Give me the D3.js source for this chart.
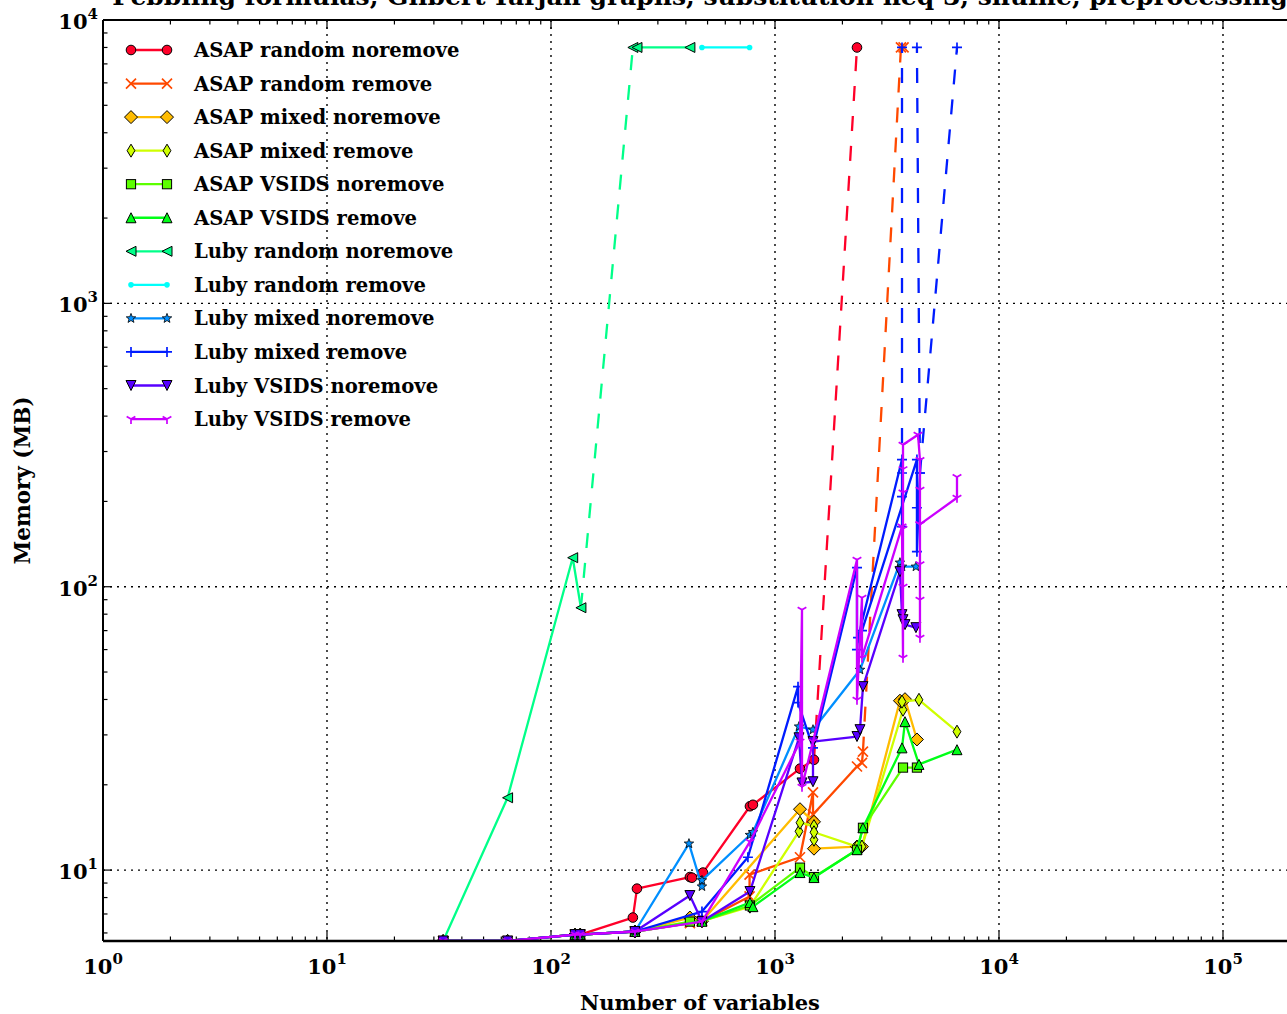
<!DOCTYPE html>
<html><head><meta charset="utf-8">
<script src="https://cdn.jsdelivr.net/npm/d3@7"></script>
<style>body{margin:0;background:#fff}</style>
</head><body>
<svg id="c" width="1287" height="1014"></svg>
<script>
// ---------------- DATA ----------------
const FAIL = 8000;          // runs that ran out of memory / time are plotted at this value
const titleText = "Pebbling formulas, Gilbert-Tarjan graphs, substitution neq 3, shuffle, preprocessing";
const xLabel = "Number of variables";
const yLabel = "Memory (MB)";
const xTickExponents = [0, 1, 2, 3, 4, 5];
const yTickExponents = [1, 2, 3, 4];

const seriesNames = [
  "ASAP random noremove", "ASAP random remove", "ASAP mixed noremove", "ASAP mixed remove",
  "ASAP VSIDS noremove", "ASAP VSIDS remove", "Luby random noremove", "Luby random remove",
  "Luby mixed noremove", "Luby mixed remove", "Luby VSIDS noremove", "Luby VSIDS remove"];
const seriesColors = ["#ff0029", "#ff4900", "#ffbc00", "#cfff00", "#5cff00", "#00ff17",
  "#00ff89", "#00fffa", "#008fff", "#001cff", "#5800ff", "#cb00ff"];
const seriesMarkers = ["circle", "x", "diamond", "thin_diamond", "square", "triangle_up",
  "triangle_left", "point", "star", "plus", "triangle_down", "tri_down"];

// null entries = break in the line
const asapRandomNoremoveX = [33, 64, 128, 135, 232, 242, 417, 426, 477, 773, 797, 1293, 1493, 2323];
const asapRandomNoremoveY = [5.62, 5.62, 5.92, 5.92, 6.8, 8.6, 9.45, 9.4, 9.8, 16.8, 17.0, 22.8, 24.5, FAIL];

const asapRandomRemoveX = [33, 64, 128, 135, 237, 417, 472, 770, 770, 1293, 1478, 1478, 2323, 2445, 2470, 3650, 3750];
const asapRandomRemoveY = [5.62, 5.62, 5.92, 5.92, 6.07, 6.5, 6.6, 8.07, 9.64, 11.1, 18.8, 15.7, 23.2, 23.9, 26.2, FAIL, FAIL];

const asapMixedNoremoveX = [33, 64, 128, 135, 237, 417, 472, 1293, 1493, 1493, 2323, 2445, 3613, 3805, 4302];
const asapMixedNoremoveY = [5.62, 5.62, 5.92, 5.92, 6.07, 6.8, 6.6, 16.4, 14.8, 11.9, 12.1, 12.1, 39.6, 40.1, 28.9];

const asapMixedRemoveX = [33, 64, 128, 135, 237, 472, 773, 1280, 1293, 1493, 1493, 1493, 2323, 2445, 3728, 3690, 4393, 6494];
const asapMixedRemoveY = [5.62, 5.62, 5.92, 5.92, 6.07, 6.6, 7.43, 13.7, 14.7, 14.3, 12.8, 13.6, 12.1, 12.1, 36.8, 39.3, 39.9, 30.8];

const asapVsidsNoremoveX = [33, 64, 128, 135, 237, 417, 472, 773, 1293, 1493, 2323, 2470, 3728, 4302];
const asapVsidsNoremoveY = [5.62, 5.62, 5.92, 5.92, 6.07, 6.58, 6.6, 7.5, 10.2, 9.45, 11.8, 14.1, 23.0, 23.0];

const asapVsidsRemoveX = [33, 64, 128, 135, 237, 472, 773, 797, 1293, 1493, 2323, 2470, 3690, 3805, 4393, 6494];
const asapVsidsRemoveY = [5.62, 5.62, 5.92, 5.92, 6.07, 6.6, 7.68, 7.43, 9.8, 9.41, 11.8, 14.1, 27.0, 33.4, 23.6, 26.6];

const lubyRandomNoremoveX = [33, 64, 125, 136, 232, 242, 417];
const lubyRandomNoremoveY = [5.62, 18.0, 126.6, 84.3, FAIL, FAIL, FAIL];

const lubyRandomRemoveX = [472, 770];
const lubyRandomRemoveY = [FAIL, FAIL];

const lubyMixedNoremoveX = [33, 64, 128, 135, 237, 413, 472, 472, 773, 797, 1280, 1478, 2396, 3613, 3690, 4258];
const lubyMixedNoremoveY = [5.62, 5.62, 5.92, 5.92, 6.07, 12.4, 8.75, 9.2, 13.3, 13.6, 32.1, 31.3, 50.9, 121.6, 117.7, 117.7];

const lubyMixedRemoveX = [33, 64, 128, 135, 237, 472, 757, 1267, 1267, 1478, 2323, 2323, 2348, 3690, 3690, 3690, 3690, 3690, null,
  2445, 4302, 4302, 4302, 4438, 4302, null, 4438, 6494];
const lubyMixedRemoveY = [5.62, 5.62, 5.92, 5.92, 6.07, 7.14, 11.1, 44.4, 39.0, 27.0, 116.7, 60.0, 66.1, 281, 163, 208, 252, FAIL, null,
  70, 281, 190, 133, 252, FAIL, null, 252, FAIL];

const lubyVsidsNoremoveX = [33, 64, 128, 135, 237, 417, 472, 773, 1280, 1320, 1478, 1478, 2323, 2396, 2470, 3613, 3690, 3728, 3805, 4258];
const lubyVsidsNoremoveY = [5.62, 5.62, 5.92, 5.92, 6.07, 8.13, 6.58, 8.4, 29.3, 20.3, 20.5, 28.4, 29.6, 31.3, 44.4, 113, 79.7, 76.5, 73.5, 71.7];

const lubyVsidsRemoveX = [33, 64, 128, 135, 237, 472, 773, 1293, 1320, 1320, 1478, 2323, 2323, 2445, 2445, 3690, 3728, 3728, 3728, 3728, 3728, 3728,
  4350, 4438, 4438, 4438, 4438, 4438, 4438, 4438, 6494, 6494];
const lubyVsidsRemoveY = [5.62, 5.62, 5.92, 5.92, 6.07, 6.58, 12.6, 28.4, 82.9, 19.7, 28.4, 124.5, 39.9, 91.4, 56.2, 163, 56.2, 100, 160, 215, 260, 317,
  344, 280, 220, 166, 120, 90, 66.1, 166, 206, 244];

const seriesX = [asapRandomNoremoveX, asapRandomRemoveX, asapMixedNoremoveX, asapMixedRemoveX, asapVsidsNoremoveX, asapVsidsRemoveX,
  lubyRandomNoremoveX, lubyRandomRemoveX, lubyMixedNoremoveX, lubyMixedRemoveX, lubyVsidsNoremoveX, lubyVsidsRemoveX];
const seriesY = [asapRandomNoremoveY, asapRandomRemoveY, asapMixedNoremoveY, asapMixedRemoveY, asapVsidsNoremoveY, asapVsidsRemoveY,
  lubyRandomNoremoveY, lubyRandomRemoveY, lubyMixedNoremoveY, lubyMixedRemoveY, lubyVsidsNoremoveY, lubyVsidsRemoveY];

// ---------------- LAYOUT ----------------
const W = 1287, H = 1014;
const plot = {left: 103, right: 1297, top: 20, bottom: 941};
const xMin = 1, xMax = 2.14e5, yMin = 5.62, yMax = 1e4;
const FONT = "'DejaVu Serif', serif";

const svg = d3.select("#c");
svg.append("rect").attr("width", W).attr("height", H).attr("fill", "#fff");

const x = d3.scaleLog().domain([xMin, xMax]).range([plot.left, plot.right]);
const y = d3.scaleLog().domain([yMin, yMax]).range([plot.bottom, plot.top]);

svg.append("clipPath").attr("id", "clip").append("rect")
  .attr("x", plot.left).attr("y", plot.top)
  .attr("width", plot.right - plot.left).attr("height", plot.bottom - plot.top);

// grid
const grid = svg.append("g").attr("stroke", "#000").attr("stroke-width", 1.4).attr("stroke-dasharray", "2,5");
xTickExponents.filter(e => e > 0).forEach(e => {
  grid.append("line").attr("x1", x(10 ** e)).attr("x2", x(10 ** e)).attr("y1", plot.top).attr("y2", plot.bottom);
});
yTickExponents.filter(e => 10 ** e < yMax).forEach(e => {
  grid.append("line").attr("y1", y(10 ** e)).attr("y2", y(10 ** e)).attr("x1", plot.left).attr("x2", plot.right);
});

// ticks
function minorVals(lo, hi) {
  const out = [];
  for (let d = Math.floor(Math.log10(lo)); d <= Math.ceil(Math.log10(hi)); d++)
    for (let k = 2; k <= 9; k++) { const v = k * 10 ** d; if (v > lo && v < hi) out.push(v); }
  return out;
}
const xMajor = xTickExponents.map(e => 10 ** e);
const yMajor = yTickExponents.map(e => 10 ** e);
const xMinor = minorVals(xMin, xMax), yMinor = minorVals(yMin, yMax);
const tk = svg.append("g").attr("stroke", "#000").attr("stroke-width", 1.2);
function xticks(vals, len) {
  vals.forEach(v => {
    tk.append("line").attr("x1", x(v)).attr("x2", x(v)).attr("y1", plot.bottom).attr("y2", plot.bottom - len);
    tk.append("line").attr("x1", x(v)).attr("x2", x(v)).attr("y1", plot.top).attr("y2", plot.top + len);
  });
}
function yticks(vals, len) {
  vals.forEach(v => {
    tk.append("line").attr("y1", y(v)).attr("y2", y(v)).attr("x1", plot.left).attr("x2", plot.left + len);
    tk.append("line").attr("y1", y(v)).attr("y2", y(v)).attr("x1", plot.right).attr("x2", plot.right - len);
  });
}
xticks(xMajor, 9); xticks(xMinor, 4.5); yticks(yMajor, 9); yticks(yMinor, 4.5);

// markers
function marker(g, type, cx, cy, color) {
  const s = 5;
  let el;
  switch (type) {
    case "circle": el = g.append("circle").attr("cx", cx).attr("cy", cy).attr("r", 4.8).attr("fill", color).attr("stroke", "#000"); break;
    case "point": el = g.append("circle").attr("cx", cx).attr("cy", cy).attr("r", 2.8).attr("fill", color).attr("stroke", "none"); break;
    case "square": el = g.append("rect").attr("x", cx - 4.6).attr("y", cy - 4.6).attr("width", 9.2).attr("height", 9.2).attr("fill", color).attr("stroke", "#000"); break;
    case "diamond": el = g.append("path").attr("d", `M${cx},${cy - 6.5}L${cx + 6.5},${cy}L${cx},${cy + 6.5}L${cx - 6.5},${cy}Z`).attr("fill", color).attr("stroke", "#000"); break;
    case "thin_diamond": el = g.append("path").attr("d", `M${cx},${cy - 6.5}L${cx + 3.9},${cy}L${cx},${cy + 6.5}L${cx - 3.9},${cy}Z`).attr("fill", color).attr("stroke", "#000"); break;
    case "triangle_up": el = g.append("path").attr("d", `M${cx},${cy - s}L${cx + s},${cy + s}L${cx - s},${cy + s}Z`).attr("fill", color).attr("stroke", "#000"); break;
    case "triangle_down": el = g.append("path").attr("d", `M${cx},${cy + s}L${cx + s},${cy - s}L${cx - s},${cy - s}Z`).attr("fill", color).attr("stroke", "#000"); break;
    case "triangle_left": el = g.append("path").attr("d", `M${cx - s},${cy}L${cx + s},${cy - s}L${cx + s},${cy + s}Z`).attr("fill", color).attr("stroke", "#000"); break;
    case "x": el = g.append("path").attr("d", `M${cx - s},${cy - s}L${cx + s},${cy + s}M${cx - s},${cy + s}L${cx + s},${cy - s}`).attr("fill", "none").attr("stroke", color).attr("stroke-width", 1.7); break;
    case "plus": el = g.append("path").attr("d", `M${cx - s},${cy}H${cx + s}M${cx},${cy - s}V${cy + s}`).attr("fill", "none").attr("stroke", color).attr("stroke-width", 1.7); break;
    case "tri_down": el = g.append("path").attr("d", `M${cx},${cy}V${cy + s}M${cx},${cy}L${cx - s * 0.87},${cy - s * 0.5}M${cx},${cy}L${cx + s * 0.87},${cy - s * 0.5}`).attr("fill", "none").attr("stroke", color).attr("stroke-width", 1.7); break;
    case "star": {
      const pts = [];
      for (let i = 0; i < 10; i++) {
        const r = i % 2 === 0 ? 5 : 2.1, a = -Math.PI / 2 + i * Math.PI / 5;
        pts.push([cx + r * Math.cos(a), cy + r * Math.sin(a)]);
      }
      el = g.append("path").attr("d", "M" + pts.map(p => p.join(",")).join("L") + "Z").attr("fill", color).attr("stroke", "#000").attr("stroke-width", 0.8);
      break;
    }
  }
  if (el && el.attr("stroke") === "#000" && !el.attr("stroke-width")) el.attr("stroke-width", 1);
}

// series
const line = d3.line().x(d => x(d[0])).y(d => y(d[1]));
function polylines(xs, ys) {
  const out = []; let cur = null;
  for (let i = 0; i < xs.length - 1; i++) {
    if (xs[i] == null || xs[i + 1] == null) { cur = null; continue; }
    const dashed = (ys[i] === FAIL) !== (ys[i + 1] === FAIL);
    if (cur && cur.dashed === dashed && cur.last === i) { cur.pts.push([xs[i + 1], ys[i + 1]]); cur.last = i + 1; }
    else { cur = {dashed, pts: [[xs[i], ys[i]], [xs[i + 1], ys[i + 1]]], last: i + 1}; out.push(cur); }
  }
  return out;
}
const plotG = svg.append("g").attr("clip-path", "url(#clip)");
seriesNames.forEach((name, si) => {
  const g = plotG.append("g");
  const xs = seriesX[si], ys = seriesY[si], col = seriesColors[si];
  polylines(xs, ys).forEach(pl => {
    g.append("path").attr("d", line(pl.pts)).attr("fill", "none").attr("stroke", col)
      .attr("stroke-width", 2.3).attr("stroke-linejoin", "round")
      .attr("stroke-dasharray", pl.dashed ? "15,15" : null);
  });
  xs.forEach((xv, i) => { if (xv != null) marker(g, seriesMarkers[si], x(xv), y(ys[i]), col); });
});

// spines
svg.append("g").attr("stroke", "#000").attr("fill", "none").call(g => {
  g.append("line").attr("x1", plot.left).attr("x2", plot.right).attr("y1", plot.bottom).attr("y2", plot.bottom).attr("stroke-width", 2.5);
  g.append("line").attr("x1", plot.left).attr("x2", plot.right).attr("y1", plot.top).attr("y2", plot.top).attr("stroke-width", 2);
  g.append("line").attr("x1", plot.left).attr("x2", plot.left).attr("y1", plot.top).attr("y2", plot.bottom).attr("stroke-width", 2);
  g.append("line").attr("x1", plot.right).attr("x2", plot.right).attr("y1", plot.top).attr("y2", plot.bottom).attr("stroke-width", 2);
});

// tick labels
const tl = svg.append("g").attr("font-family", FONT).attr("font-weight", "bold").attr("fill", "#000");
xTickExponents.forEach(e => {
  const t = tl.append("text").attr("x", x(10 ** e)).attr("y", plot.bottom + 33).attr("text-anchor", "middle").attr("font-size", 21);
  t.append("tspan").text("10");
  t.append("tspan").attr("dy", -10).attr("font-size", 15).text(e);
});
yTickExponents.forEach(e => {
  const t = tl.append("text").attr("x", plot.left - 5).attr("y", y(10 ** e) + 9).attr("text-anchor", "end").attr("font-size", 21);
  t.append("tspan").text("10");
  t.append("tspan").attr("dy", -10).attr("font-size", 15).text(e);
});

// axis labels and title
svg.append("text").attr("x", (plot.left + plot.right) / 2).attr("y", 1010).attr("text-anchor", "middle")
  .attr("font-family", FONT).attr("font-weight", "bold").attr("font-size", 21).text(xLabel);
svg.append("text").attr("transform", `translate(30,${(plot.top + plot.bottom) / 2}) rotate(-90)`).attr("text-anchor", "middle")
  .attr("font-family", FONT).attr("font-weight", "bold").attr("font-size", 21.5).text(yLabel);
svg.append("text").attr("x", (plot.left + plot.right) / 2).attr("y", 5).attr("text-anchor", "middle")
  .attr("font-family", FONT).attr("font-weight", "bold").attr("font-size", 25).text(titleText);

// legend
const lg = svg.append("g");
seriesNames.forEach((name, i) => {
  const ly = 50 + i * 33.55;
  lg.append("line").attr("x1", 131).attr("x2", 167).attr("y1", ly).attr("y2", ly).attr("stroke", seriesColors[i]).attr("stroke-width", 2.3);
  marker(lg, seriesMarkers[i], 131, ly, seriesColors[i]);
  marker(lg, seriesMarkers[i], 167, ly, seriesColors[i]);
  lg.append("text").attr("x", 194).attr("y", ly + 7).attr("font-family", FONT).attr("font-weight", "bold")
    .attr("font-size", 19.6).text(name);
});
</script>
</body></html>
